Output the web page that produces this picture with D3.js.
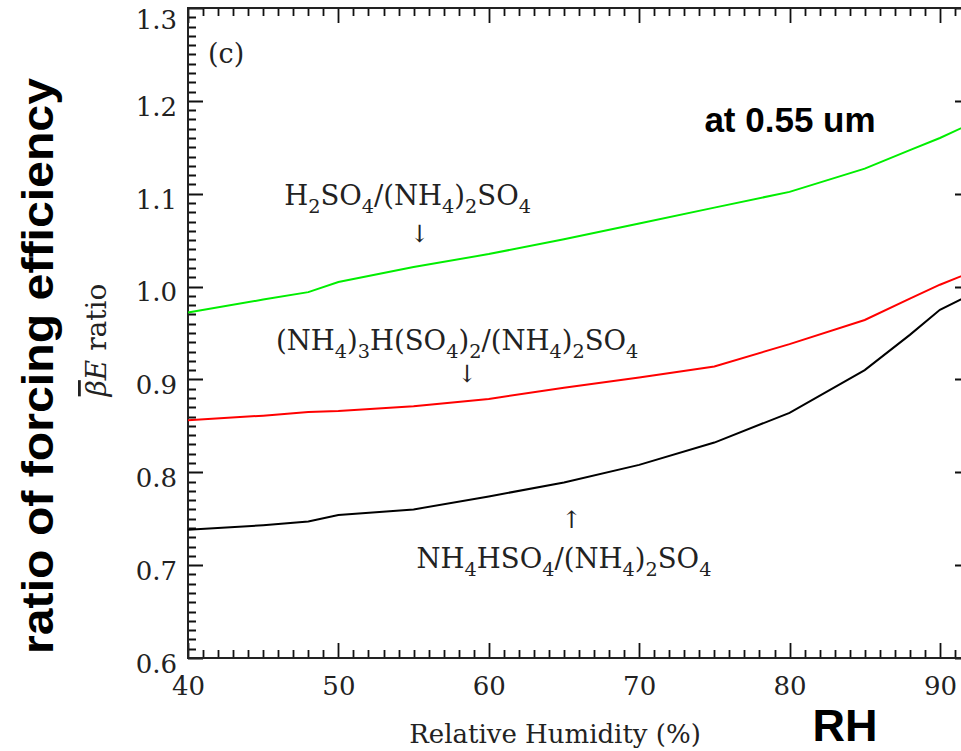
<!DOCTYPE html>
<html>
<head>
<meta charset="utf-8">
<script src="https://cdn.jsdelivr.net/npm/d3@7"></script>
<style>
  body { margin: 0; background: #fff; }
  svg { display: block; }
</style>
</head>
<body>
<div id="chart"></div>
<script>
// Relative humidity (%) sample points
const rhValues = [40, 45, 48, 50, 55, 60, 65, 70, 75, 80, 85, 88, 90, 92];

// ratio values for each salt vs (NH4)2SO4
const h2so4Ratio = [0.972, 0.986, 0.994, 1.005, 1.021, 1.035, 1.051, 1.068, 1.085, 1.102, 1.127, 1.147, 1.160, 1.175];
const letoviciteRatio = [0.856, 0.861, 0.865, 0.866, 0.871, 0.879, 0.891, 0.902, 0.914, 0.938, 0.964, 0.987, 1.002, 1.015];
const nh4hso4Ratio = [0.738, 0.743, 0.747, 0.754, 0.760, 0.774, 0.789, 0.808, 0.832, 0.864, 0.910, 0.948, 0.975, 0.991];

const seriesNames = ["H_2SO_4/(NH_4)_2SO_4", "(NH_4)_3H(SO_4)_2/(NH_4)_2SO_4", "NH_4HSO_4/(NH_4)_2SO_4"];
const seriesColors = ["#00ee00", "#ff0000", "#000000"];

const xTicks = [40, 50, 60, 70, 80, 90];
const yTicks = [0.6, 0.7, 0.8, 0.9, 1.0, 1.1, 1.2, 1.3];

// Dimensions (the right side of the frame runs past the window, like the original)
const margin = { top: 8, left: 188 };
const width = 782;
const height = 650;

const x = d3.scaleLinear().domain([40, 92]).range([0, width]);
const y = d3.scaleLinear().domain([0.6, 1.3]).range([height, 0]);

const svg = d3.select("#chart")
    .append("svg")
    .attr("width", 961)
    .attr("height", 751);

const g = svg.append("g")
    .attr("transform", `translate(${margin.left},${margin.top})`);

const serif = "'DejaVu Serif', serif";
const ink = "#222";

// minor ticks every 1 % and every 0.01
const xMinor = d3.range(40, 93).filter(d => d % 10 !== 0);
const yMinor = d3.range(60, 131).filter(d => d % 10 !== 0).map(d => d / 100);

// inward tick marks on all four sides, as one path per set
function tickPath(values, len, vertical) {
    const p = d3.path();
    values.forEach(v => {
        if (vertical) {
            const py = Math.round(y(v)) + 0.5;
            p.moveTo(0, py); p.lineTo(len, py);
            p.moveTo(width, py); p.lineTo(width - len, py);
        } else {
            const px = Math.round(x(v)) + 0.5;
            p.moveTo(px, height); p.lineTo(px, height - len);
            p.moveTo(px, 0); p.lineTo(px, len);
        }
    });
    g.append("path")
        .attr("d", p.toString())
        .attr("fill", "none")
        .attr("stroke", "#111")
        .attr("stroke-width", 1.8);
}
tickPath(yMinor, 8, true);
tickPath(yTicks, 15, true);
tickPath(xMinor, 8, false);
tickPath(xTicks, 15, false);

// tick labels from the axes
function styleAxis(sel) {
    sel.select(".domain").remove();
    sel.selectAll("line").remove();
    sel.selectAll("text")
        .attr("font-family", serif)
        .attr("font-size", 26)
        .attr("fill", ink);
}

g.append("g")
    .call(d3.axisLeft(y).tickValues(yTicks).tickSize(0).tickPadding(11).tickFormat(d3.format(".1f")))
    .call(styleAxis)
    .selectAll("text").attr("dy", d => d === 1.3 ? "0.8em" : "0.55em");

g.append("g").attr("transform", `translate(0,${height})`)
    .call(d3.axisBottom(x).tickValues(xTicks).tickSize(0).tickPadding(19).tickFormat(d3.format("d")))
    .call(styleAxis);

// frame
g.append("rect")
    .attr("width", width)
    .attr("height", height)
    .attr("fill", "none")
    .attr("stroke", ink)
    .attr("stroke-width", 2);

// lines
const line = d3.line()
    .x((d, i) => x(rhValues[i]))
    .y(d => y(d));

[h2so4Ratio, letoviciteRatio, nh4hso4Ratio].forEach((vals, i) => {
    g.append("path")
        .datum(vals)
        .attr("fill", "none")
        .attr("stroke", seriesColors[i])
        .attr("stroke-width", 2)
        .attr("d", line);
});

// chemical labels with subscripts
function chemText(sel, str) {
    const parts = str.split(/_(\d)/);
    parts.forEach((p, i) => {
        if (p === "") return;
        const t = sel.append("tspan").text(p);
        if (i % 2 === 1) {
            t.attr("font-size", "0.7em").attr("dy", 8);
        } else if (i > 0 && parts[i - 1] !== "") {
            t.attr("dy", -8);
        }
    });
}

// annotation anchors in data coords
const annotations = [
    { name: seriesNames[0], rh: 54.6, val: 1.088, arrowRh: 55.4, arrowVal: 1.048, arrow: "\u2193" },
    { name: seriesNames[1], rh: 57.9, val: 0.932, arrowRh: 58.55, arrowVal: 0.897, arrow: "\u2193" },
    { name: seriesNames[2], rh: 65.0, val: 0.697, arrowRh: 65.5, arrowVal: 0.740, arrow: "\u2191" }
];

annotations.forEach(a => {
    const t = g.append("text")
        .attr("x", x(a.rh))
        .attr("y", y(a.val))
        .attr("text-anchor", "middle")
        .attr("font-family", serif)
        .attr("font-size", 27.5)
        .attr("fill", ink);
    chemText(t, a.name);
    g.append("text")
        .attr("x", x(a.arrowRh))
        .attr("y", y(a.arrowVal))
        .attr("text-anchor", "middle")
        .attr("font-family", serif)
        .attr("font-size", 24)
        .attr("fill", ink)
        .text(a.arrow);
});

// panel letter
g.append("text")
    .attr("x", 20)
    .attr("y", 55)
    .attr("font-family", serif)
    .attr("font-size", 27)
    .attr("fill", ink)
    .text("(c)");

// wavelength note
svg.append("text")
    .attr("x", 790)
    .attr("y", 132)
    .attr("text-anchor", "middle")
    .attr("font-family", "'Liberation Sans', Arial, sans-serif")
    .attr("font-weight", "bold")
    .attr("font-size", 35)
    .text("at 0.55 um");

// x axis title
svg.append("text")
    .attr("x", 555)
    .attr("y", 743)
    .attr("text-anchor", "middle")
    .attr("font-family", serif)
    .attr("font-size", 26)
    .attr("fill", ink)
    .text("Relative Humidity (%)");

svg.append("text")
    .attr("x", 845)
    .attr("y", 741)
    .attr("text-anchor", "middle")
    .attr("font-family", "'Liberation Sans', Arial, sans-serif")
    .attr("font-weight", "bold")
    .attr("font-size", 45)
    .text("RH");

// y axis titles
const yTitle = svg.append("text")
    .attr("transform", "translate(106,340) rotate(-90)")
    .attr("text-anchor", "middle")
    .attr("font-family", serif)
    .attr("font-size", 28)
    .attr("fill", ink);
yTitle.append("tspan").attr("font-style", "italic").style("text-decoration", "overline").text("\u03B2");
yTitle.append("tspan").attr("font-style", "italic").text("E");
yTitle.append("tspan").text(" ratio");

svg.append("text")
    .attr("transform", "translate(53,366) rotate(-90)")
    .attr("text-anchor", "middle")
    .attr("font-family", "'Liberation Sans', Arial, sans-serif")
    .attr("font-weight", "bold")
    .attr("font-size", 44)
    .attr("textLength", 576)
    .attr("lengthAdjust", "spacingAndGlyphs")
    .text("ratio of forcing efficiency");
</script>
</body>
</html>
